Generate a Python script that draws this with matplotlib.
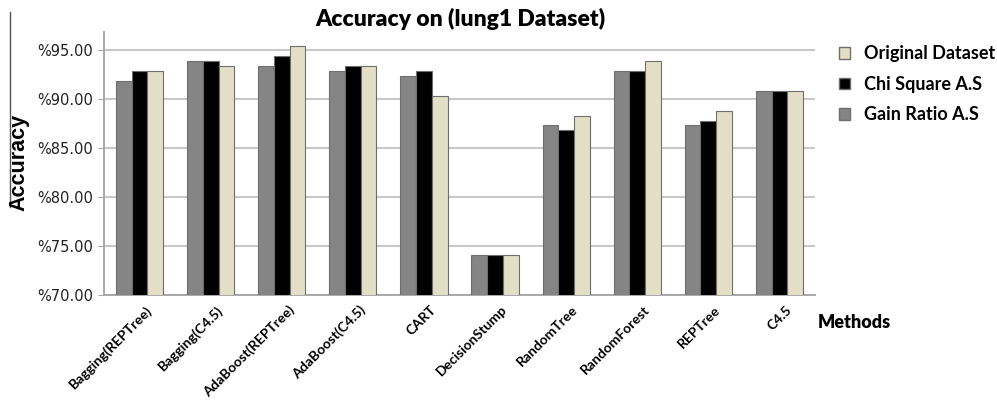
import matplotlib
matplotlib.use("Agg")
import matplotlib.pyplot as plt
import numpy as np
from matplotlib.patches import Patch
from matplotlib.lines import Line2D

methods = ["Bagging(REPTree)", "Bagging(C4.5)", "AdaBoost(REPTree)", "AdaBoost(C4.5)",
           "CART", "DecisionStump", "RandomTree", "RandomForest", "REPTree", "C4.5"]
gain_ratio = [91.85, 93.85, 93.4, 92.9, 92.4, 74.1, 87.35, 92.9, 87.35, 90.85]
chi_square = [92.9, 93.85, 94.35, 93.4, 92.9, 74.1, 86.85, 92.9, 87.8, 90.85]
original = [92.9, 93.4, 95.45, 93.4, 90.3, 74.1, 88.25, 93.85, 88.75, 90.85]
yticks = [70, 75, 80, 85, 90, 95]

c_gain = "#858585"
c_chi = "#000000"
c_orig = "#e3dfc6"
edge = "#6e6e6e"

fig = plt.figure(figsize=(9.97, 4.01), dpi=100)
ax = fig.add_axes([104 / 997, 1 - 295 / 401, 711 / 997, 263 / 401])

x = np.arange(len(methods))
w = 0.221
ax.bar(x - w, gain_ratio, w, color=c_gain, edgecolor=edge, linewidth=0.8, zorder=3)
ax.bar(x, chi_square, w, color=c_chi, edgecolor=edge, linewidth=0.8, zorder=3)
ax.bar(x + w, original, w, color=c_orig, edgecolor=edge, linewidth=0.8, zorder=3)

ax.set_xlim(-0.5, len(methods) - 0.5)
ax.set_ylim(70, 96.84)
ax.set_yticks(yticks)
ax.set_yticklabels([f"%{v:.2f}" for v in yticks], fontsize=10.5, color="#222222")
ax.yaxis.grid(True, color="#c8c8c8", linewidth=1.5, zorder=0)
ax.set_axisbelow(True)
for s in ["top", "right"]:
    ax.spines[s].set_visible(False)
for s in ["left", "bottom"]:
    ax.spines[s].set_color("#a8a8a8")
    ax.spines[s].set_linewidth(1.4)
ax.tick_params(axis="y", length=4, color="#a8a8a8", pad=4)
ax.tick_params(axis="x", length=0, pad=6)

ax.set_xticks(x + 0.08)
ax.set_xticklabels(methods, rotation=45, ha="right", va="top", rotation_mode="anchor",
                   fontsize=10, fontweight="bold", family="Lato")

fig.text(460 / 997, 1 - 19 / 401, "Accuracy on (lung1 Dataset)", ha="center", va="center",
         fontsize=16.5, fontweight="heavy", family="Lato")
fig.text(19 / 997, 1 - 162 / 401, "Accuracy", rotation=90, ha="center", va="center",
         fontsize=15.5, fontweight="bold", family="Liberation Sans")
fig.text(854 / 997, 1 - 323 / 401, "Methods", ha="center", va="center",
         fontsize=13, fontweight="heavy", family="Lato")

# thin frame line on the left edge
fig.add_artist(Line2D([10 / 997, 10 / 997], [1 - 12 / 401, 1 - 207 / 401],
                      transform=fig.transFigure, color="#555555", linewidth=1))

handles = [Patch(facecolor=c_orig, edgecolor=edge, label="Original Dataset"),
           Patch(facecolor=c_chi, edgecolor=edge, label="Chi Square A.S"),
           Patch(facecolor=c_gain, edgecolor=edge, label="Gain Ratio A.S")]
fig.legend(handles=handles, loc="upper left", bbox_to_anchor=(823 / 997, 1 - 29 / 401),
           frameon=False, handlelength=0.6, handleheight=0.6, handletextpad=0.75,
           labelspacing=0.75, prop={"family": "Lato", "weight": "bold", "size": 13})

fig.savefig("out.png", dpi=100)
